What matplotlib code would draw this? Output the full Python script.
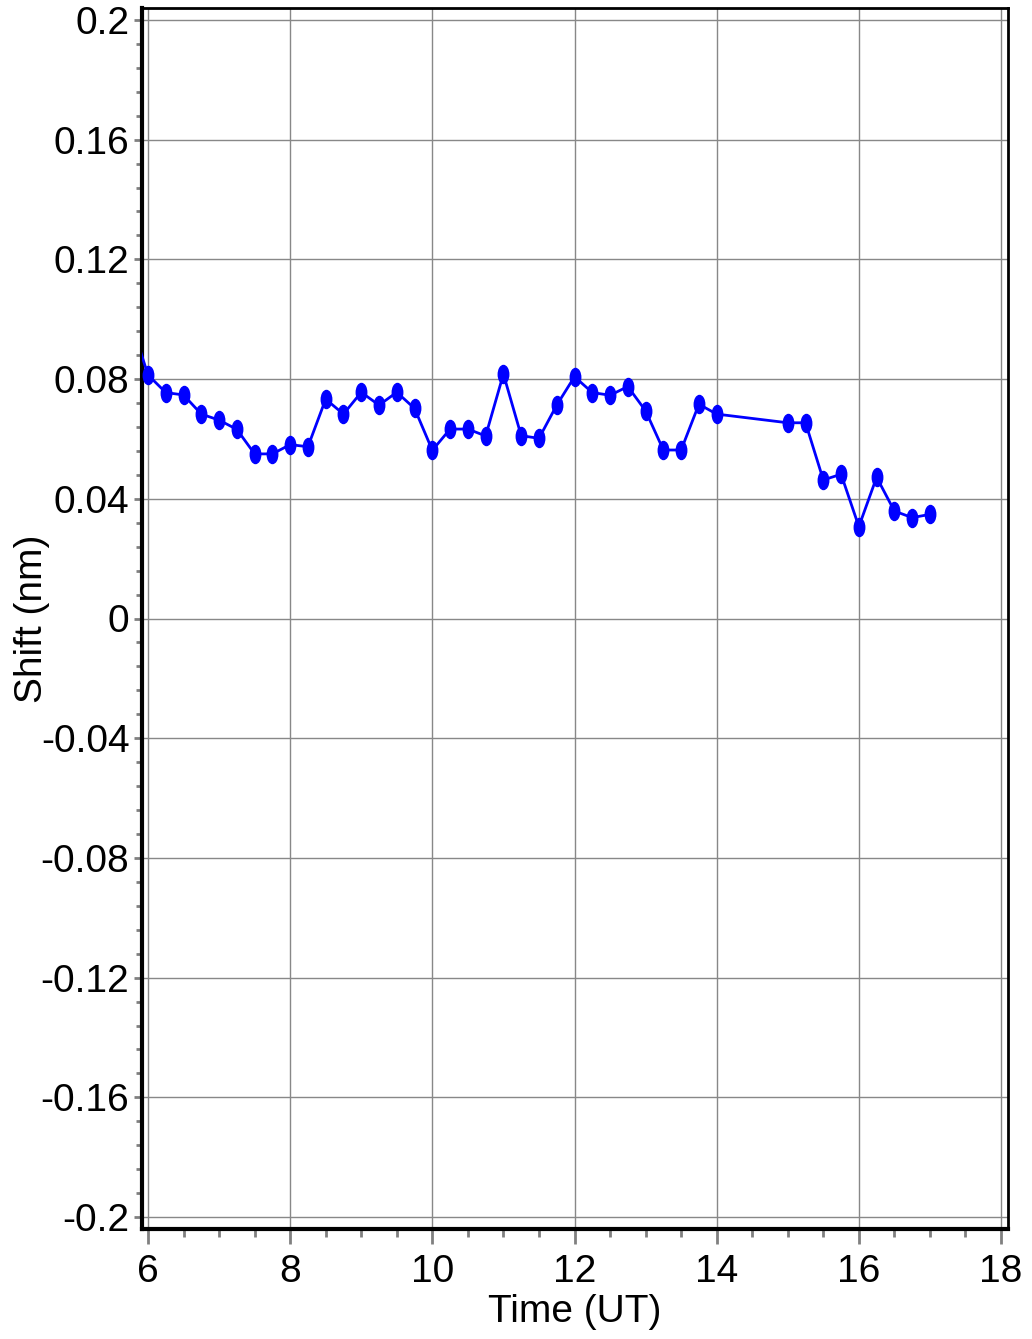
import matplotlib
matplotlib.use("Agg")
import matplotlib.pyplot as plt
from matplotlib.path import Path
from matplotlib.transforms import Affine2D
from matplotlib.ticker import FixedLocator, MultipleLocator

# ---- data ----
time_ut = [5.75, 6.0, 6.25, 6.5, 6.75, 7.0, 7.25, 7.5, 7.75, 8.0, 8.25, 8.5, 8.75,
           9.0, 9.25, 9.5, 9.75, 10.0, 10.25, 10.5, 10.75, 11.0, 11.25, 11.5, 11.75,
           12.0, 12.25, 12.5, 12.75, 13.0, 13.25, 13.5, 13.75, 14.0,
           15.0, 15.25, 15.5, 15.75, 16.0, 16.25, 16.5, 16.75, 17.0]
shift_nm = [0.100, 0.0814, 0.0755, 0.0747, 0.0683, 0.0663, 0.0632, 0.0550, 0.0550,
            0.0581, 0.0574, 0.0733, 0.0683, 0.0756, 0.0713, 0.0756, 0.0702,
            0.0562, 0.0633, 0.0633, 0.0610, 0.0817, 0.0611, 0.0602, 0.0713,
            0.0808, 0.0755, 0.0746, 0.0775, 0.0694, 0.0563, 0.0563, 0.0716, 0.0683,
            0.0654, 0.0654, 0.0463, 0.0482, 0.0307, 0.0472, 0.0359, 0.0337, 0.0348]

x_ticks = [6, 8, 10, 12, 14, 16, 18]
x_tick_labels = ["6", "8", "10", "12", "14", "16", "18"]
y_ticks = [0.2, 0.16, 0.12, 0.08, 0.04, 0.0, -0.04, -0.08, -0.12, -0.16, -0.2]
y_tick_labels = ["0.2", "0.16", "0.12", "0.08", "0.04", "0", "-0.04", "-0.08",
                 "-0.12", "-0.16", "-0.2"]

plt.rcParams['font.family'] = ['Liberation Sans', 'DejaVu Sans']

fig = plt.figure(figsize=(10.32, 13.39), dpi=100)
ax = fig.add_axes([142/1032, 1 - 1229/1339, (1008-142)/1032, (1229-8)/1339])

ellipse = Path.unit_circle().transformed(Affine2D().scale(0.58, 1.0))

ax.plot(time_ut, shift_nm, color='#0000ff', lw=2.0, marker=ellipse,
        markersize=13, markerfacecolor='#0000ff', markeredgecolor='#0000ff',
        zorder=3)

ax.set_xlim(5.916, 18.098)
ax.set_ylim(-0.204, 0.204)

ax.xaxis.set_major_locator(FixedLocator(x_ticks))
ax.set_xticklabels(x_tick_labels)
ax.xaxis.set_minor_locator(MultipleLocator(0.5))
ax.yaxis.set_major_locator(FixedLocator(y_ticks))
ax.set_yticklabels(y_tick_labels)
ax.yaxis.set_minor_locator(MultipleLocator(0.008))

ax.grid(True, which='major', color='#888888', lw=1.0)
ax.set_axisbelow(True)

ax.tick_params(axis='x', which='major', direction='out', length=11, width=2,
               color='#808080', labelsize=28, pad=7)
ax.tick_params(axis='x', which='minor', direction='out', length=6, width=2,
               color='#808080')
ax.tick_params(axis='y', which='major', direction='out', length=6, width=2,
               color='#808080', labelsize=28, pad=3)
ax.tick_params(axis='y', which='minor', direction='out', length=4, width=2,
               color='#808080')

for side in ['left', 'bottom']:
    ax.spines[side].set_linewidth(3.0)
for side in ['top', 'right']:
    ax.spines[side].set_linewidth(2.0)

ax.set_xlabel("Time (UT)", fontsize=28, labelpad=3)
ax.set_ylabel("Shift (nm)", fontsize=28, labelpad=-6.5)

fig.savefig("out.png", dpi=100)
